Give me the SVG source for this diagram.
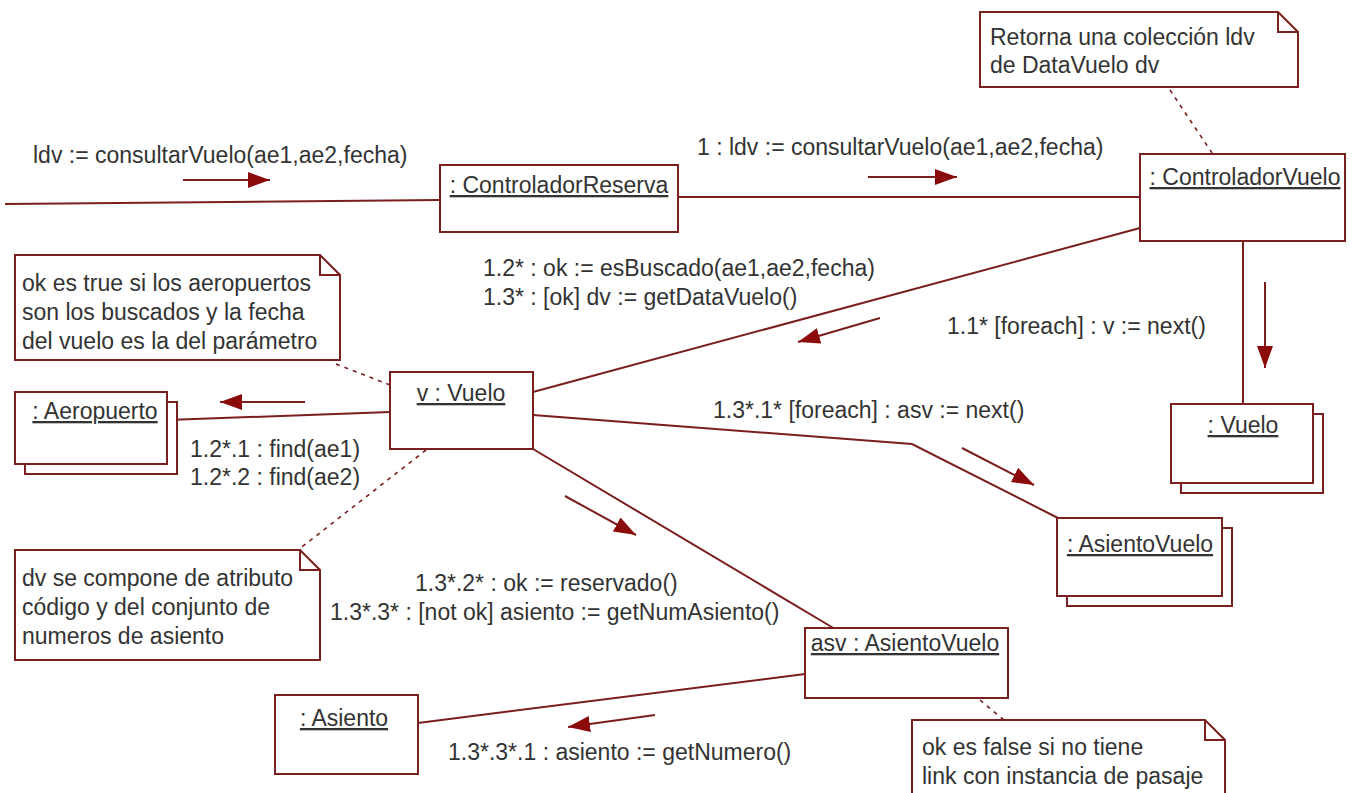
<svg xmlns="http://www.w3.org/2000/svg" width="1357" height="793" viewBox="0 0 1357 793">
<style>
text{font-family:"Liberation Sans",Arial,sans-serif;font-size:23px;fill:#333}
.obj{text-anchor:middle;text-decoration:underline}
.box{fill:#fff;stroke:#7a1e1e;stroke-width:2}
.ln{fill:none;stroke:#7a1e1e;stroke-width:2}
.dash{fill:none;stroke:#7a1e1e;stroke-width:1.6;stroke-dasharray:4 5}
.msg{fill:none;stroke:#7a1e1e;stroke-width:2;marker-end:url(#ah)}
</style>
<defs>
<marker id="ah" markerUnits="userSpaceOnUse" markerWidth="24" markerHeight="18" refX="22" refY="9" orient="auto" viewBox="0 0 24 18">
<path d="M0,1 L22,9 L0,17 Z" fill="#8b0a0a"/>
</marker>
</defs>
<rect width="1357" height="793" fill="#fff"/>

<g id="connectors">
<line class="ln" x1="5" y1="204" x2="440" y2="200"/>
<line class="ln" x1="678" y1="197" x2="1140" y2="197"/>
<line class="ln" x1="1140" y1="228" x2="533" y2="392"/>
<line class="ln" x1="1243" y1="241" x2="1243" y2="404"/>
<line class="ln" x1="167" y1="420" x2="390" y2="412"/>
<polyline class="ln" points="533,415 912,444 1058,518"/>
<line class="ln" x1="533" y1="449" x2="835" y2="629"/>
<line class="ln" x1="805" y1="674" x2="418" y2="723"/>
<line class="dash" x1="1170" y1="90" x2="1212" y2="153"/>
<line class="dash" x1="336" y1="364" x2="390" y2="385"/>
<line class="dash" x1="426" y1="450" x2="298" y2="550"/>
<line class="dash" x1="980" y1="700" x2="1004" y2="720"/>
<line class="msg" x1="183" y1="180" x2="270" y2="180"/>
<line class="msg" x1="868" y1="177" x2="957" y2="177"/>
<line class="msg" x1="880" y1="318" x2="798" y2="342"/>
<line class="msg" x1="1265" y1="282" x2="1265" y2="368"/>
<line class="msg" x1="305" y1="402" x2="220" y2="402"/>
<line class="msg" x1="962" y1="448" x2="1034" y2="485"/>
<line class="msg" x1="565" y1="496" x2="636" y2="535"/>
<line class="msg" x1="655" y1="715" x2="568" y2="727"/>
<text x="33" y="163">ldv := consultarVuelo(ae1,ae2,fecha)</text>
<text x="697" y="155">1 : ldv := consultarVuelo(ae1,ae2,fecha)</text>
<text x="483" y="276">1.2* : ok := esBuscado(ae1,ae2,fecha)</text>
<text x="483" y="305">1.3* : [ok] dv := getDataVuelo()</text>
<text x="947" y="334">1.1* [foreach] : v := next()</text>
<text x="190" y="457">1.2*.1 : find(ae1)</text>
<text x="190" y="485">1.2*.2 : find(ae2)</text>
<text x="713" y="418">1.3*.1* [foreach] : asv := next()</text>
<text x="415" y="591">1.3*.2* : ok := reservado()</text>
<text x="330" y="620">1.3*.3* : [not ok] asiento := getNumAsiento()</text>
<text x="448" y="760">1.3*.3*.1 : asiento := getNumero()</text>
</g>

<g id="note-retorna">
<path class="box" d="M980,12 H1278 L1298,32 V87 H980 Z"/>
<path class="ln" d="M1278,12 V32 H1298"/>
<text x="990" y="45">Retorna una colección ldv</text>
<text x="990" y="73">de DataVuelo dv</text>
</g>

<g id="controladorReserva">
<rect class="box" x="440" y="165" width="238" height="67"/>
<text class="obj" x="559" y="193">: ControladorReserva</text>
</g>

<g id="controladorVuelo">
<rect class="box" x="1140" y="154" width="205" height="87"/>
<text class="obj" x="1245" y="185">: ControladorVuelo</text>
</g>

<g id="vuelos">
<rect class="box" x="1181" y="414" width="142" height="79"/>
<rect class="box" x="1171" y="404" width="142" height="79"/>
<text class="obj" x="1243" y="433">: Vuelo</text>
</g>

<g id="note-ok-true">
<path class="box" d="M15,255 H320 L340,275 V360 H15 Z"/>
<path class="ln" d="M320,255 V275 H340"/>
<text x="22" y="291">ok es true si los aeropuertos</text>
<text x="22" y="320">son los buscados y la fecha</text>
<text x="22" y="349">del vuelo es la del parámetro</text>
</g>

<g id="aeropuerto">
<rect class="box" x="25" y="402" width="152" height="72"/>
<rect class="box" x="15" y="392" width="152" height="72"/>
<text class="obj" x="95" y="419">: Aeropuerto</text>
</g>

<g id="vVuelo">
<rect class="box" x="390" y="372" width="143" height="77"/>
<text class="obj" x="461" y="401">v : Vuelo</text>
</g>

<g id="asientosVuelo">
<rect class="box" x="1067" y="528" width="165" height="78"/>
<rect class="box" x="1057" y="518" width="165" height="78"/>
<text class="obj" x="1140" y="552">: AsientoVuelo</text>
</g>

<g id="note-dv">
<path class="box" d="M15,550 H300 L320,570 V660 H15 Z"/>
<path class="ln" d="M300,550 V570 H320"/>
<text x="22" y="586">dv se compone de atributo</text>
<text x="22" y="615">código y del conjunto de</text>
<text x="22" y="644">numeros de asiento</text>
</g>

<g id="asvAsientoVuelo">
<rect class="box" x="805" y="628" width="203" height="70"/>
<text class="obj" x="905" y="651">asv : AsientoVuelo</text>
</g>

<g id="asiento">
<rect class="box" x="275" y="695" width="143" height="79"/>
<text class="obj" x="344" y="726">: Asiento</text>
</g>

<g id="note-ok-false">
<path class="box" d="M912,720 H1205 L1225,740 V800 H912 Z"/>
<path class="ln" d="M1205,720 V740 H1225"/>
<text x="922" y="755">ok es false si no tiene</text>
<text x="922" y="784">link con instancia de pasaje</text>
</g>
</svg>
